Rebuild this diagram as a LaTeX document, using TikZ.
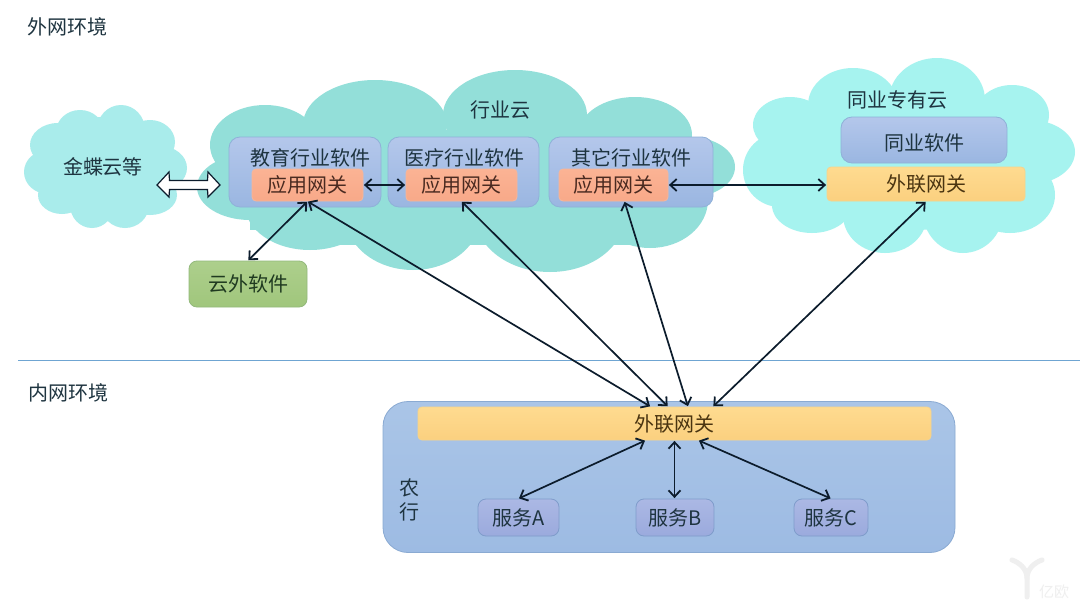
\documentclass[tikz,border=0pt]{standalone}
\usepackage{fontspec}
\setmainfont{Noto Sans CJK SC}
\usetikzlibrary{arrows.meta}
\definecolor{inktext}{HTML}{1E3440}
\definecolor{inkline}{HTML}{0C1C2C}
\definecolor{cloudpale}{HTML}{A9ECEB}
\definecolor{cloudmid}{HTML}{93DFD9}
\definecolor{cloudbright}{HTML}{A6F3EF}
\definecolor{softtop}{HTML}{B4C7EB}
\definecolor{softbot}{HTML}{9AB6E1}
\definecolor{softedge}{HTML}{8FB1D8}
\definecolor{gatetop}{HTML}{FBB394}
\definecolor{gatebot}{HTML}{F8A989}
\definecolor{gateedge}{HTML}{F5B79C}
\definecolor{gateink}{HTML}{4A2A20}
\definecolor{linktop}{HTML}{FEDB90}
\definecolor{linkbot}{HTML}{FBD07F}
\definecolor{linkedge}{HTML}{F6D48C}
\definecolor{linkink}{HTML}{4A3410}
\definecolor{svctop}{HTML}{ABB8E4}
\definecolor{svcbot}{HTML}{9BAADD}
\definecolor{svcedge}{HTML}{7F9CCB}
\definecolor{greentop}{HTML}{ADCF8C}
\definecolor{greenbot}{HTML}{A0C67C}
\definecolor{greenedge}{HTML}{93B97C}
\definecolor{greenink}{HTML}{1F3A20}
\definecolor{banktop}{HTML}{AAC5E7}
\definecolor{bankbot}{HTML}{9DBBE3}
\definecolor{bankedge}{HTML}{8AAAD2}
\definecolor{divider}{HTML}{6FA5D2}
\definecolor{faintmark}{HTML}{EFEFEF}
\tikzset{
  label20/.style={text=inktext,font=\fontsize{20}{24}\selectfont,inner sep=0pt},
  boxbase/.style={draw,line width=0.8pt,inner sep=0pt,text=inktext,font=\fontsize{20}{24}\selectfont},
  softbox/.style={boxbase,rounded corners=11pt,top color=softtop,bottom color=softbot,draw=softedge},
  gatebox/.style={boxbase,rounded corners=4pt,top color=gatetop,bottom color=gatebot,draw=gateedge,text=gateink},
  linkbox/.style={boxbase,rounded corners=4pt,top color=linktop,bottom color=linkbot,draw=linkedge,text=linkink},
  servicebox/.style={boxbase,rounded corners=8pt,top color=svctop,bottom color=svcbot,draw=svcedge},
  greenbox/.style={boxbase,rounded corners=8pt,top color=greentop,bottom color=greenbot,draw=greenedge,text=greenink},
  bankbox/.style={draw=bankedge,line width=0.8pt,rounded corners=25pt,inner sep=0pt,top color=banktop,bottom color=bankbot},
  twoway/.style={draw=inkline,line width=1.7pt,{Straight Barb[length=6.5pt,width=12pt,line width=1.8pt]}-{Straight Barb[length=6.5pt,width=12pt,line width=1.8pt]},shorten <=0.5pt,shorten >=0.5pt},
}
\begin{document}
\begin{tikzpicture}[x=1pt,y=-1pt]
\useasboundingbox (0,0) rectangle (1080,608);
\fill[white] (0,0) rectangle (1080,608);

% Clouds, each built from overlapping lobes
\foreach \cx/\cy/\rx/\ry in {105/167/70/50,58/145/28/22,80/132/24/22,121/130/24/25,150/142/25/22,160/168/27/22,150/195/27/20,125/205/24/23,92/205/22/23,62/195/24/19,48/172/24/22}
  \fill[cloudpale] (\cx,\cy) ellipse [x radius=\rx,y radius=\ry];
\fill[cloudmid] (250,130) rectangle (690,230);
\fill[cloudmid] (330,200) rectangle (640,245);
\foreach \cx/\cy/\rx/\ry in {265/145/55/40,375/125/72/45,515/115/72/45,635/135/57/38,690/167/45/30,650/200/58/48,550/215/75/57,413/215/68/55,310/205/65/45,250/187/53/33}
  \fill[cloudmid] (\cx,\cy) ellipse [x radius=\rx,y radius=\ry];
\foreach \cx/\cy/\rx/\ry in {910/160/140/70,790/125/37/28,853/105/45/37,937/100/48/42,1012/115/37/30,1030/152/45/32,1010/195/45/38,963/212/40/41,885/215/42/38,812/205/40/28,780/170/37/37}
  \fill[cloudbright] (\cx,\cy) ellipse [x radius=\rx,y radius=\ry];

% Boundary between the outer and inner networks
\draw[draw=divider,line width=1pt] (18,360) -- (1080,360);

% Software groups in the industry cloud
\node[softbox,minimum width=152pt,minimum height=70pt] (eduSoft) at (305,172) {};
\node[softbox,minimum width=151pt,minimum height=70pt] (medSoft) at (463.5,172) {};
\node[softbox,minimum width=164pt,minimum height=70pt] (otherSoft) at (631,172) {};
\node[label20] (eduLabel) at (310,158) {教育行业软件};
\node[label20] (medLabel) at (464,158) {医疗行业软件};
\node[label20] (otherLabel) at (631,158) {其它行业软件};
\node[gatebox,minimum width=111pt,minimum height=32pt] (eduGate) at (307.5,185) {应用网关};
\node[gatebox,minimum width=111pt,minimum height=32pt] (medGate) at (461.5,185) {应用网关};
\node[gatebox,minimum width=109pt,minimum height=32pt] (otherGate) at (613.5,185) {应用网关};

% Peer private cloud
\node[softbox,minimum width=166pt,minimum height=46pt] (peerSoft) at (924,140) {};
\node[label20] (peerSoftLabel) at (924,142.5) {同业软件};
\node[linkbox,minimum width=198pt,minimum height=34pt] (peerLink) at (926,184) {外联网关};

% Software outside the cloud
\node[greenbox,minimum width=118pt,minimum height=46pt] (outerSoft) at (248,284) {云外软件};

% Bank intranet
\node[bankbox,minimum width=572pt,minimum height=151pt] (bank) at (669,477) {};
\node[linkbox,minimum width=513pt,minimum height=33pt] (bankLink) at (674.5,423.5) {外联网关};
\node[servicebox,minimum width=81pt,minimum height=37pt] (svcA) at (518.5,517.5) {服务A};
\node[servicebox,minimum width=78pt,minimum height=37pt] (svcB) at (675,517.5) {服务B};
\node[servicebox,minimum width=74pt,minimum height=37pt] (svcC) at (831,517.5) {服务C};

% Free-standing labels
\node[label20] (outerTitle) at (67.5,27) {外网环境};
\node[label20] (innerTitle) at (68,393) {内网环境};
\node[label20] (kingdeeLabel) at (103,167) {金蝶云等};
\node[label20] (industryLabel) at (500,110) {行业云};
\node[label20] (peerLabel) at (897,100) {同业专有云};
\node[label20,align=center] (bankLabel) at (409,500) {农\\行};

% Wide white arrow between the public cloud and the industry cloud
\draw[draw=inkline,fill=white,line width=1.2pt,line join=miter]
  (157,185) -- (169,172) -- (169.5,180.5) -- (207.5,180.5) -- (208,172) -- (220,185)
  -- (208,197) -- (207.5,189.5) -- (169.5,189.5) -- (169,197) -- cycle;

% Connections
\draw[twoway] (eduGate.east) -- (medGate.west);
\draw[twoway] (otherGate.east) -- (peerLink.west |- otherGate.east);
\draw[twoway] (eduGate.south) -- (outerSoft.north);
\draw[twoway] (eduGate.south) -- ([xshift=-24pt]bankLink.north);
\draw[twoway] (medGate.south) -- ([xshift=-6.5pt]bankLink.north);
\draw[twoway] ([xshift=11pt]otherGate.south) -- ([xshift=13.5pt]bankLink.north);
\draw[twoway] (peerLink.south) -- ([xshift=38.5pt]bankLink.north);
\draw[twoway] ([xshift=-29pt]bankLink.south) -- (svcA.north);
\draw[twoway] (bankLink.south) -- (svcB.north -| bankLink.south);
\draw[twoway] ([xshift=24pt]bankLink.south) -- (svcC.north);

% Faint corner mark
\draw[draw=faintmark,line width=5pt,line cap=round] (1027,597) -- (1027,578) .. controls (1027,568) and (1018,562) .. (1012,560);
\draw[draw=faintmark,line width=5pt,line cap=round] (1027,578) .. controls (1027,568) and (1036,562) .. (1042,560);
\node[text=faintmark,font=\fontsize{15}{18}\selectfont,inner sep=0pt] (markText) at (1054,592) {亿欧};
\end{tikzpicture}
\end{document}
